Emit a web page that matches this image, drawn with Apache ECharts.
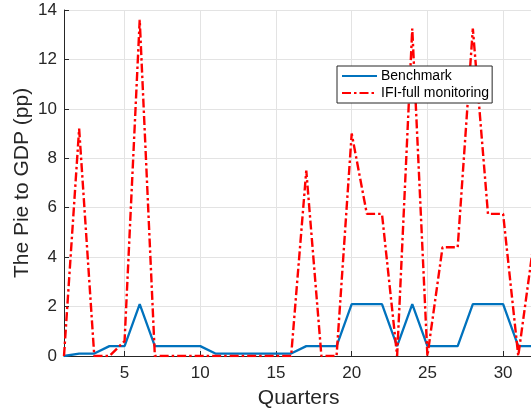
<!DOCTYPE html>
<html>
<head>
<meta charset="utf-8">
<script src="https://cdn.jsdelivr.net/npm/echarts@6/dist/echarts.min.js"></script>
<style>
html,body{margin:0;padding:0;background:#fff;}
#chart{width:531px;height:413px;}
</style>
</head>
<body>
<div id="chart"></div>
<script>
const quarters = [1,2,3,4,5,6,7,8,9,10,11,12,13,14,15,16,17,18,19,20,21,22,23,24,25,26,27,28,29,30,31,32];
const benchmark = [0,0.1,0.1,0.4,0.4,2.1,0.4,0.4,0.4,0.4,0.1,0.1,0.1,0.1,0.1,0.1,0.4,0.4,0.4,2.1,2.1,2.1,0.4,2.1,0.4,0.4,0.4,2.1,2.1,2.1,0.4,0.4];
const ifiFull = [0,9.2,0,0,0.6,13.6,0,0,0,0,0,0,0,0,0,0,7.5,0,0,9.0,5.75,5.75,0,13.25,0,4.4,4.4,13.25,5.75,5.75,0,4.5];
const xTicks = [5,10,15,20,25,30];
const yTicks = [0,2,4,6,8,10,12,14];
const seriesNames = ['Benchmark','IFI-full monitoring'];

const chart = echarts.init(document.getElementById('chart'), null, {renderer:'canvas'});
const font = 'Liberation Sans, Arial, Helvetica, sans-serif';
const axisColor = '#262626';
const gridColor = '#e3e3e3';
chart.setOption({
  animation:false,
  backgroundColor:'#fff',
  grid:{left:64, top:10, right:-2.4, bottom:57, containLabel:false, outerBoundsMode:'none'},
  legend:{
    orient:'vertical', left:337, top:66,
    padding:[3,3,3,4], itemGap:3, itemWidth:35, itemHeight:14,
    borderColor:'#262626', borderWidth:1, backgroundColor:'#fff',
    itemStyle:{color:'rgba(0,0,0,0)', borderColor:'rgba(0,0,0,0)', borderWidth:0, opacity:0},
    textStyle:{fontFamily:font, fontSize:14, color:'#000', padding:[0,0,0,-1]},
    data:seriesNames
  },
  xAxis:{
    type:'value', min:1, max:32,
    name:'Quarters', nameLocation:'middle', nameGap:32, nameMoveOverlap:false,
    nameTextStyle:{fontFamily:font, fontSize:21, color:axisColor},
    axisLine:{show:true, lineStyle:{color:axisColor, width:1}},
    axisTick:{show:true, inside:true, length:5, customValues:xTicks, lineStyle:{color:axisColor}},
    axisLabel:{customValues:xTicks, fontFamily:font, fontSize:17, color:axisColor, margin:9},
    splitLine:{show:true, lineStyle:{color:gridColor, width:1}}
  },
  yAxis:{
    type:'value', min:0, max:14, interval:2,
    name:'The Pie to GDP (pp)', nameLocation:'middle', nameGap:31, nameMoveOverlap:false,
    nameTextStyle:{fontFamily:font, fontSize:21, color:axisColor},
    axisLine:{show:true, lineStyle:{color:axisColor, width:1}},
    axisTick:{show:true, inside:true, length:5, lineStyle:{color:axisColor}},
    axisLabel:{fontFamily:font, fontSize:17, color:axisColor, margin:7},
    splitLine:{show:true, lineStyle:{color:gridColor, width:1}}
  },
  series:[
    {
      name:seriesNames[0], type:'line', symbol:'none', showSymbol:false,
      data:quarters.map((q,i)=>[q,benchmark[i]]),
      lineStyle:{color:'#0072BD', width:2.3},
      itemStyle:{color:'#0072BD'}
    },
    {
      name:seriesNames[1], type:'line', symbol:'none', showSymbol:false,
      data:quarters.map((q,i)=>[q,ifiFull[i]]),
      lineStyle:{color:'#FF0000', width:2.4, type:[9,3,2.5,3]},
      itemStyle:{color:'#FF0000'}
    }
  ]
});
</script>
</body>
</html>
